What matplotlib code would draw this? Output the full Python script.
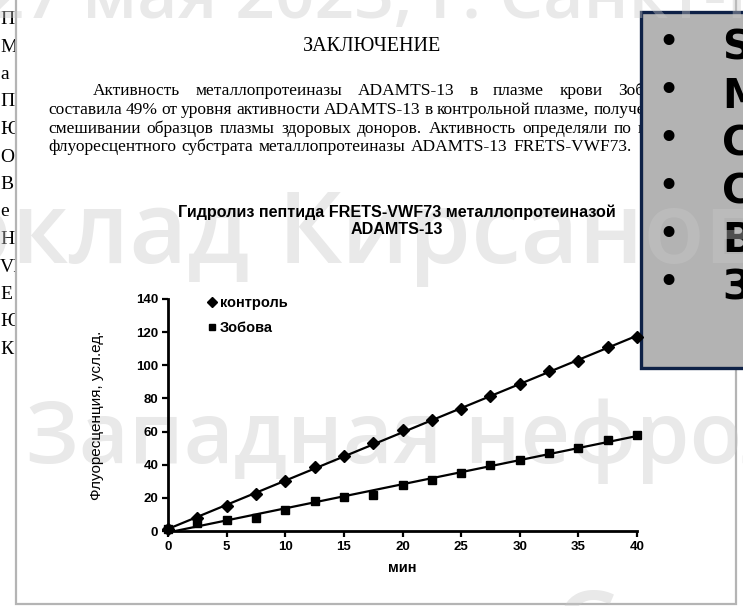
import numpy as np
import matplotlib.pyplot as plt
from matplotlib.patches import Rectangle
from matplotlib.lines import Line2D

W, H = 743, 606

# fluorescence readings, one every 2.5 min
minutes = [0, 2.5, 5, 7.5, 10, 12.5, 15, 17.5, 20, 22.5, 25, 27.5, 30, 32.5, 35, 37.5, 40]
control = [1, 7.9, 15.3, 22.4, 30, 38.6, 45.2, 53.3, 61.2, 67, 73.6, 81.2, 89, 96.3, 102.4, 111, 116.8]
zobova = [1, 4.8, 6.4, 8, 12.9, 18.3, 20.8, 21.8, 27.9, 30.5, 35.1, 39.6, 42.7, 47, 50, 55, 58]
series_names = ['контроль', 'Зобова']
x_ticks = [0, 5, 10, 15, 20, 25, 30, 35, 40]
y_ticks = [0, 20, 40, 60, 80, 100, 120, 140]

chart_title = 'Гидролиз пептида FRETS-VWF73 металлопротеиназой\nADAMTS-13'
x_label = 'мин'
y_label = 'Флуоресценция, усл.ед.'

heading = 'ЗАКЛЮЧЕНИЕ'
paragraph = [
    ('Активность металлопротеиназы ADAMTS-13 в плазме крови Зобовой', 93, 15.3),
    ('составила 49% от уровня активности ADAMTS-13 в контрольной плазме, полученной при', 48, 3.8),
    ('смешивании образцов плазмы здоровых доноров. Активность определяли по изменению', 48, 6.3),
    ('флуоресцентного субстрата металлопротеиназы ADAMTS-13 FRETS-VWF73.', 48, 5.6),
]
margin_letters = ['П', 'М', 'а', 'П', 'Ю', 'О', 'В', 'е', 'Н', 'VI', 'Е', 'Ю', 'К']
box_letters = ['S', 'М', 'С', 'С', 'В', 'З']
watermark = [
    ('27 мая 2023, г. Санкт-Петербург', -15, 18, 50, 'left'),
    ('Доклад', 250, 263, 72, 'right'),
    ('Кирсанова', 278, 263, 72, 'left'),
    ('Западная нефрология', 26, 463, 62, 'left'),
    ('г. Санкт-Петербург', 455, 662, 72, 'left'),
]

fig = plt.figure(figsize=(W / 100, H / 100), dpi=100)
renderer = fig.canvas.get_renderer()

# page layer, pixel coordinates
bg = fig.add_axes([0, 0, 1, 1], zorder=0)
bg.set_xlim(0, W)
bg.set_ylim(H, 0)
bg.axis('off')

border = 16
for i, ch in enumerate(margin_letters):
    bg.text(0, 24 + i * 27.5, ch, family='Liberation Serif', fontsize=14,
            va='baseline', ha='left', zorder=1)
bg.add_patch(Rectangle((border, -10), 736 - border, 614, facecolor='white',
                       edgecolor='#b4b4b4', lw=1.6, zorder=2))

bg.text(372, 51, heading, family='Liberation Serif', fontsize=14.5,
        ha='center', va='baseline', zorder=3)


def words_line(ax, text, x0, y, gap, **kw):
    x = x0
    for w in text.split():
        t = ax.text(x, y, w, va='baseline', ha='left', **kw)
        x += t.get_window_extent(renderer).width + gap


for k, (line, x0, gap) in enumerate(paragraph):
    words_line(bg, line, x0, 95 + k * 18.8, gap, family='Liberation Serif',
               fontsize=12.5, zorder=3)

fig.text(397 / W, 1 - 221 / H, chart_title, family='Liberation Sans',
         fontweight='bold', fontsize=11.6, ha='center', va='center',
         linespacing=1.15)

# slide overlay: grey box and watermark, under the chart marks
fg = fig.add_axes([0, 0, 1, 1], zorder=1)
fg.set_xlim(0, W)
fg.set_ylim(H, 0)
fg.axis('off')
fg.patch.set_alpha(0)
fg.add_patch(Rectangle((641, 12), 130, 356, facecolor='#b3b3b3',
                       edgecolor='#0e2147', lw=2.4, zorder=1))
for i, ch in enumerate(box_letters):
    y = 45 + i * 48
    fg.text(668, y + 9, '•', family='DejaVu Sans', fontsize=27, ha='center',
            va='baseline', zorder=2)
    fg.text(722, y + 15, ch, family='DejaVu Sans', fontweight='bold', fontsize=29,
            ha='left', va='baseline', zorder=2)

for txt, x, y, size, ha in watermark:
    fg.text(x, y, txt, family='Open Sans', fontweight='semibold', fontsize=size,
            color='#c8c8c8', alpha=0.4, ha=ha, va='baseline', zorder=3)

# the chart
ax = fig.add_axes([168 / W, 1 - 531 / H, (637 - 168) / W, (531 - 299) / H],
                  zorder=2)
ax.set_facecolor('none')
for name, vals, mk in [(series_names[0], control, 'D'), (series_names[1], zobova, 's')]:
    fit = np.polyfit(minutes, vals, 1)
    ends = [minutes[0], minutes[-1]]
    ax.plot(ends, np.polyval(fit, ends), color='black', lw=1.6, zorder=2)
    ax.plot(minutes, vals, ls='none', marker=mk, color='black',
            ms=5.5 if mk == 's' else 6, zorder=3, clip_on=False)

ax.set_xlim(0, 40)
ax.set_ylim(0, 140)
ax.set_xticks(x_ticks)
ax.set_yticks(y_ticks)
for s in ['top', 'right']:
    ax.spines[s].set_visible(False)
for s in ['left', 'bottom']:
    ax.spines[s].set_linewidth(2)
ax.tick_params(direction='out', length=4, width=1.6, pad=3)
for lab in ax.get_xticklabels() + ax.get_yticklabels():
    lab.set_family('Liberation Sans')
    lab.set_fontweight('bold')
    lab.set_fontsize(9.5)
ax.set_xlabel(x_label, family='Liberation Sans', fontweight='bold', fontsize=10.5, labelpad=6)
ax.set_ylabel(y_label, family='Liberation Sans', fontsize=11, labelpad=23)

handles = [Line2D([], [], ls='none', marker='D', color='black', ms=5),
           Line2D([], [], ls='none', marker='s', color='black', ms=5)]
ax.legend(handles, series_names, loc='upper left', bbox_to_anchor=(0.07, 1.045),
          frameon=False, handlelength=0.6, handletextpad=0.2, labelspacing=0.75,
          borderpad=0, prop={'family': 'Liberation Sans', 'weight': 'bold', 'size': 10.5})

fig.savefig('out.png', dpi=100)
